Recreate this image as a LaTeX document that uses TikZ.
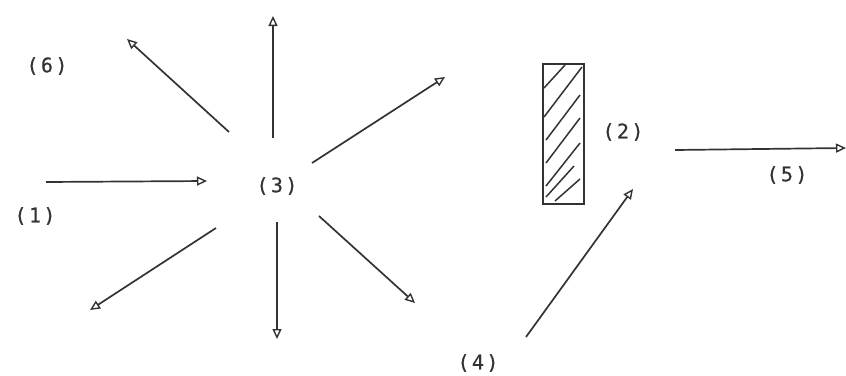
\documentclass[tikz,border=0pt]{standalone}
\usepackage{fontspec}
\newfontfamily\lblfont[LetterSpace=12,FakeBold=0.6]{DejaVu Sans Mono}
\usetikzlibrary{arrows.meta}
\begin{document}
\begin{tikzpicture}[x=1pt,y=-1pt,
  ray/.style={draw=black!80, line width=1.7pt, -{Triangle[open,length=10pt,width=9pt,line width=1.4pt]}},
  hatch/.style={draw=black!80, line width=1.5pt},
  lbl/.style={font=\lblfont\fontsize{20}{22}\selectfont, text=black!80, inner sep=0pt}]
\useasboundingbox[fill=white] (0,0) rectangle (846,375);
% labels
\node[lbl] (l6) at (47,66) {(6)};
\node[lbl] (l1) at (35,216) {(1)};
\node[lbl] (l3) at (277,186) {(3)};
\node[lbl] (l2) at (623,132) {(2)};
\node[lbl] (l5) at (787,175) {(5)};
\node[lbl] (l4) at (478,363) {(4)};
% sample box
\node[draw=black!80, line width=1.7pt, minimum width=41pt, minimum height=140pt, inner sep=0pt] (box) at (563.5,134) {};
\draw[hatch] (544,88) -- (565,65);
\draw[hatch] (544,117) -- (582,67);
\draw[hatch] (546,140) -- (580,95);
\draw[hatch] (546,163) -- (580,118);
\draw[hatch] (546,186) -- (580,143);
\draw[hatch] (546,197) -- (574,166);
\draw[hatch] (555,201) -- (580,179);
% arrow end points
\coordinate (a1s) at (46,182);   \coordinate (a1e) at (207,181);
\coordinate (aus) at (273,138);  \coordinate (aue) at (273,16);
\coordinate (auls) at (229,132); \coordinate (aule) at (127,39);
\coordinate (aurs) at (312,163); \coordinate (aure) at (445,77);
\coordinate (adls) at (216,228); \coordinate (adle) at (90,310);
\coordinate (ads) at (277,222);  \coordinate (ade) at (277,339);
\coordinate (adrs) at (319,216); \coordinate (adre) at (415,303);
\coordinate (a4s) at (526,337);  \coordinate (a4e) at (633,189);
\coordinate (a5s) at (675,150);  \coordinate (a5e) at (846,148);
% arrows
\draw[ray] (a1s) -- (a1e);
\draw[ray] (aus) -- (aue);
\draw[ray] (auls) -- (aule);
\draw[ray] (aurs) -- (aure);
\draw[ray] (adls) -- (adle);
\draw[ray] (ads) -- (ade);
\draw[ray] (adrs) -- (adre);
\draw[ray] (a4s) -- (a4e);
\draw[ray] (a5s) -- (a5e);
\end{tikzpicture}
\end{document}
